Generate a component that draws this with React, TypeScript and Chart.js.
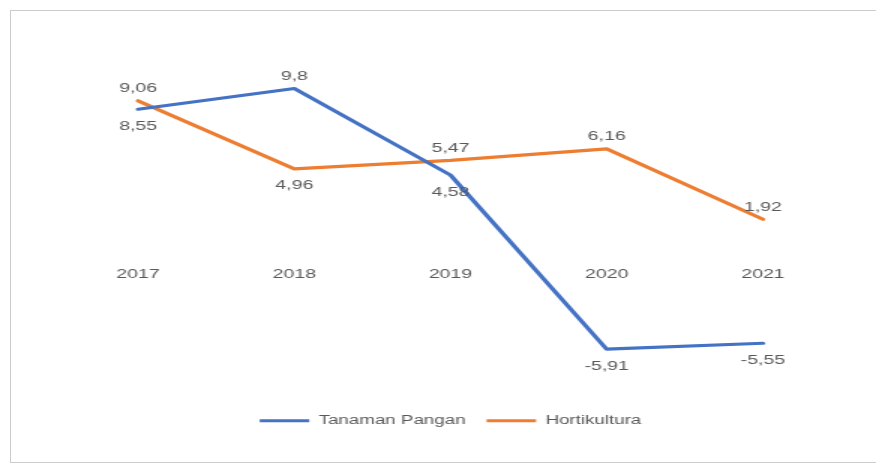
import React, { useEffect, useRef } from "react";
import { Chart, registerables } from "chart.js";

Chart.register(...registerables);

const categories = ["2017", "2018", "2019", "2020", "2021"];
const tanamanPangan = [8.55, 9.8, 4.58, -5.91, -5.55];
const hortikultura = [9.06, 4.96, 5.47, 6.16, 1.92];
const seriesNames = ["Tanaman Pangan", "Hortikultura"];
const seriesColors = ["#4472C4", "#ED7D31"];

const FONT = "'Liberation Sans', Arial, sans-serif";
const TEXT = "#595959";

const fmt = (v: number) => String(v).replace(".", ",");

const labelPlugin = {
  id: "valueLabels",
  afterDatasetsDraw(chart: any) {
    const ctx = chart.ctx;
    const sets = chart.data.datasets;
    ctx.save();
    ctx.font = `13px ${FONT}`;
    ctx.fillStyle = TEXT;
    ctx.textAlign = "center";
    ctx.textBaseline = "middle";
    sets.forEach((ds: any, di: number) => {
      const meta = chart.getDatasetMeta(di);
      meta.data.forEach((pt: any, i: number) => {
        const v = ds.data[i] as number;
        const others = sets.map((s: any) => s.data[i] as number);
        const isTop = v >= Math.max(...others);
        const y = isTop ? pt.y - 12 : pt.y + 17;
        ctx.fillText(fmt(v), pt.x, y);
      });
    });
    ctx.restore();
  },
};

export default function App() {
  const ref = useRef<HTMLCanvasElement | null>(null);
  useEffect(() => {
    if (!ref.current) return;
    const chart = new Chart(ref.current, {
      type: "line",
      data: {
        labels: categories,
        datasets: [
          {
            label: seriesNames[0],
            data: tanamanPangan,
            borderColor: seriesColors[0],
            backgroundColor: seriesColors[0],
            borderWidth: 3.2,
            pointRadius: 0,
            tension: 0,
            borderJoinStyle: "round",
            borderCapStyle: "round",
          },
          {
            label: seriesNames[1],
            data: hortikultura,
            borderColor: seriesColors[1],
            backgroundColor: seriesColors[1],
            borderWidth: 3.2,
            pointRadius: 0,
            tension: 0,
            borderJoinStyle: "round",
            borderCapStyle: "round",
          },
        ],
      },
      options: {
        responsive: false,
        devicePixelRatio: 1,
        animation: false,
        layout: { padding: { top: 52, left: 40, right: 23.3, bottom: 29 } },
        scales: {
          x: {
            position: { y: 0 } as any,
            offset: true,
            grid: { display: false, drawTicks: false, offset: true },
            border: { display: false },
            ticks: { color: TEXT, font: { family: FONT, size: 13 }, padding: 15 },
          },
          y: {
            display: false,
            min: -9,
            max: 12,
          },
        },
        plugins: {
          legend: {
            position: "bottom",
            labels: {
              usePointStyle: true,
              pointStyle: "line",
              pointStyleWidth: 33,
              padding: 14,
              color: TEXT,
              font: { family: FONT, size: 12.5 },
            },
          },
          tooltip: { enabled: false },
        },
      },
      plugins: [labelPlugin],
    });
    return () => chart.destroy();
  }, []);

  return (
    <div>
      <div
        style={{
          position: "fixed",
          left: 10,
          top: 10,
          width: 900,
          height: 451,
          border: "1px solid #cccccc",
          background: "#fff",
        }}
      />
      <canvas
        ref={ref}
        width={584}
        height={466}
        style={{ position: "fixed", left: 0, top: 0, width: "876px", height: "466px" }}
      />
    </div>
  );
}
